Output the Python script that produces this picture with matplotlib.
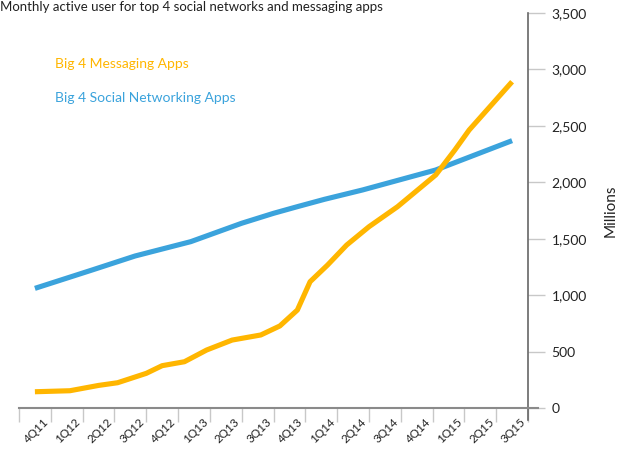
import matplotlib
matplotlib.use('Agg')
import matplotlib.pyplot as plt
import matplotlib.transforms as mtransforms
from matplotlib.ticker import FuncFormatter

# quarters on the x axis
quarters = ["4Q11", "1Q12", "2Q12", "3Q12", "4Q12", "1Q13", "2Q13", "3Q13",
            "4Q13", "1Q14", "2Q14", "3Q14", "4Q14", "1Q15", "2Q15", "3Q15"]

# readings (quarter index, millions of users)
msg_t = [0, 1.1, 2.0, 2.6, 3.5, 4.0, 4.7, 5.4, 6.2, 6.5, 7.1, 7.7, 8.25, 8.65,
         9.2, 9.8, 10.5, 11.4, 12.6, 13.2, 13.65, 15]
msg_users = [144, 153, 200, 224, 307, 375, 410, 514, 602, 617, 647, 727, 868, 1119,
             1267, 1444, 1606, 1784, 2065, 2286, 2463, 2891]

social_t = [0, 1.8, 3.15, 4.9, 6.5, 7.5, 8.25, 9.1, 10.3, 12.6, 15]
social_users = [1060, 1223, 1347, 1474, 1637, 1725, 1784, 1849, 1932, 2109, 2369]

y_ticks = [0, 500, 1000, 1500, 2000, 2500, 3000, 3500]

ORANGE = "#FFB600"
BLUE = "#3BA3DC"
TEXT = "#222222"

plt.rcParams['font.family'] = ['Lato', 'DejaVu Sans']

fig = plt.figure(figsize=(6.28, 4.49), dpi=100)
ax = fig.add_axes([19 / 628, 41 / 449, 509 / 628, 395 / 449])

ax.plot(social_t, social_users, color=BLUE, lw=3.7, solid_capstyle='butt')
ax.plot(msg_t, msg_users, color=ORANGE, lw=3.7, solid_capstyle='butt')

ax.set_xlim(-0.5, len(quarters) - 0.5)
ax.set_ylim(0, 3500)

# category boundaries get the tick marks, labels sit in the middle
ax.set_xticks([i - 0.5 for i in range(len(quarters) + 1)])
ax.set_xticklabels([])
ax.set_xticks(range(len(quarters)), minor=True)
ax.set_xticklabels(quarters, minor=True, rotation=45, ha='right',
                   rotation_mode='anchor', fontsize=8.5, color=TEXT)
ax.tick_params(axis='x', which='major', length=10, width=1, color='#c8c8c8', direction='out')
ax.tick_params(axis='x', which='minor', length=0, pad=6)
shift = mtransforms.ScaledTranslation(8 / 100, 0, fig.dpi_scale_trans)
for lbl in ax.get_xticklabels(minor=True):
    lbl.set_transform(lbl.get_transform() + shift)

ax.yaxis.tick_right()
ax.yaxis.set_label_position('right')
ax.set_yticks(y_ticks)
ax.yaxis.set_major_formatter(FuncFormatter(lambda v, p: f"{int(v):,}"))
ax.tick_params(axis='y', length=12, width=1, color='#c8c8c8', pad=5,
               labelsize=10, labelcolor=TEXT)
ax.set_ylabel("Millions", fontsize=11, color=TEXT, labelpad=12)

for s in ['top', 'left', 'right']:
    ax.spines[s].set_visible(False)
ax.spines['bottom'].set_color('#8a8a8a')
ax.spines['bottom'].set_linewidth(1.5)

# right axis line running a bit below zero, and baseline running past it
ax.plot([1, 1], [-0.03, 1], transform=ax.transAxes, color='#666666', lw=1.2, clip_on=False)
ax.plot([1, 1.02], [0, 0], transform=ax.transAxes, color='#8a8a8a', lw=1.5, clip_on=False)

fig.text(0.0, 0.997, "Monthly active user for top 4 social networks and messaging apps",
         ha='left', va='top', fontsize=9.5, color=TEXT)
ax.text(0.07, 0.87, "Big 4 Messaging Apps", transform=ax.transAxes,
        color=ORANGE, fontsize=10, va='center')
ax.text(0.07, 0.785, "Big 4 Social Networking Apps", transform=ax.transAxes,
        color=BLUE, fontsize=10, va='center')

fig.savefig("out.png", dpi=100)
